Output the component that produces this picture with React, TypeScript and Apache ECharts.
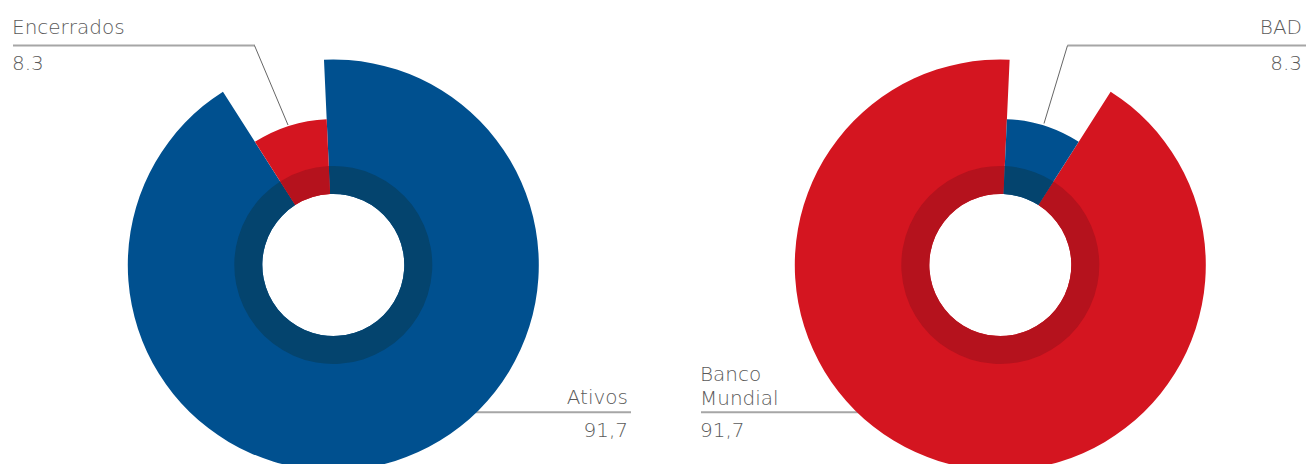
import React, { useEffect, useRef } from "react";
import * as echarts from "echarts";

const leftNames = ["Ativos", "Encerrados"];
const leftValues = [91.7, 8.3];
const leftLabels = ["91,7", "8.3"];
const rightNames = ["Banco Mundial", "BAD"];
const rightValues = [91.7, 8.3];
const rightLabels = ["91,7", "8.3"];

const BLUE = "#00508f";
const RED = "#d41520";
const BLUE_DARK = "#04446e";
const RED_DARK = "#b5121d";
const TRANSPARENT = "rgba(0,0,0,0)";
const TEXT = "#5a5a5a";
const FONT = "'DejaVu Sans'";

function pieSeries(
  center: [number, number],
  names: string[],
  values: number[],
  colors: string[],
  radius: [number, number],
  startAngle: number,
  clockwise: boolean,
  z: number
) {
  return {
    type: "pie",
    center,
    radius,
    startAngle,
    clockwise,
    silent: true,
    z,
    label: { show: false },
    labelLine: { show: false },
    emphasis: { disabled: true },
    itemStyle: { borderWidth: 0 },
    data: names.map((n, i) => ({
      name: n,
      value: values[i],
      itemStyle: { color: colors[i] },
    })),
  };
}

function txt(text: string, x: number, y: number, align: string) {
  return {
    type: "text",
    x,
    y,
    silent: true,
    style: {
      text,
      fill: TEXT,
      fontFamily: FONT,
      fontWeight: 200,
      fontSize: 20,
      align,
      verticalAlign: "middle",
    },
  };
}

function hline(x1: number, x2: number, y: number) {
  return {
    type: "line",
    silent: true,
    shape: { x1, y1: y, x2, y2: y },
    style: { stroke: "#a6a6a6", lineWidth: 2 },
  };
}

function dline(x1: number, y1: number, x2: number, y2: number) {
  return {
    type: "line",
    silent: true,
    shape: { x1, y1, x2, y2 },
    style: { stroke: "#666666", lineWidth: 1 },
  };
}

export default function App() {
  const ref = useRef<HTMLDivElement>(null);
  useEffect(() => {
    document.body.style.margin = "0";
    const chart = echarts.init(ref.current!, null, { renderer: "svg" });
    const lc: [number, number] = [333.3, 265];
    const rc: [number, number] = [1000.3, 265];
    const lStart = 92.6;
    const rStart = 87.4;
    chart.setOption({
      animation: false,
      backgroundColor: "#ffffff",
      series: [
        pieSeries(lc, leftNames, leftValues, [BLUE, TRANSPARENT], [71, 205.5], lStart, true, 1),
        pieSeries(lc, leftNames, leftValues, [TRANSPARENT, RED], [71, 146], lStart, true, 2),
        pieSeries(lc, leftNames, leftValues, [BLUE_DARK, RED_DARK], [71, 99], lStart, true, 3),
        pieSeries(rc, rightNames, rightValues, [RED, TRANSPARENT], [71, 205.5], rStart, false, 1),
        pieSeries(rc, rightNames, rightValues, [TRANSPARENT, BLUE], [71, 146], rStart, false, 2),
        pieSeries(rc, rightNames, rightValues, [RED_DARK, BLUE_DARK], [71, 99], rStart, false, 3),
      ],
      graphic: [
        hline(13, 255, 45.5),
        dline(254.5, 45.5, 288, 125),
        txt(leftNames[1], 12, 27, "left"),
        txt(leftLabels[1], 12, 62.5, "left"),
        hline(470, 631, 412.3),
        txt(leftNames[0], 628, 396.5, "right"),
        txt(leftLabels[0], 628, 430, "right"),
        hline(1067.5, 1306, 45.5),
        dline(1067.5, 45.5, 1044, 123.5),
        txt(rightNames[1], 1302, 27, "right"),
        txt(rightLabels[1], 1302, 62.5, "right"),
        hline(701, 862, 412.3),
        txt("Banco", 700, 373.5, "left"),
        txt("Mundial", 700, 397.5, "left"),
        txt(rightLabels[0], 700, 430, "left"),
      ],
    });
    return () => chart.dispose();
  }, []);
  return <div ref={ref} style={{ width: 1306, height: 464 }} />;
}
